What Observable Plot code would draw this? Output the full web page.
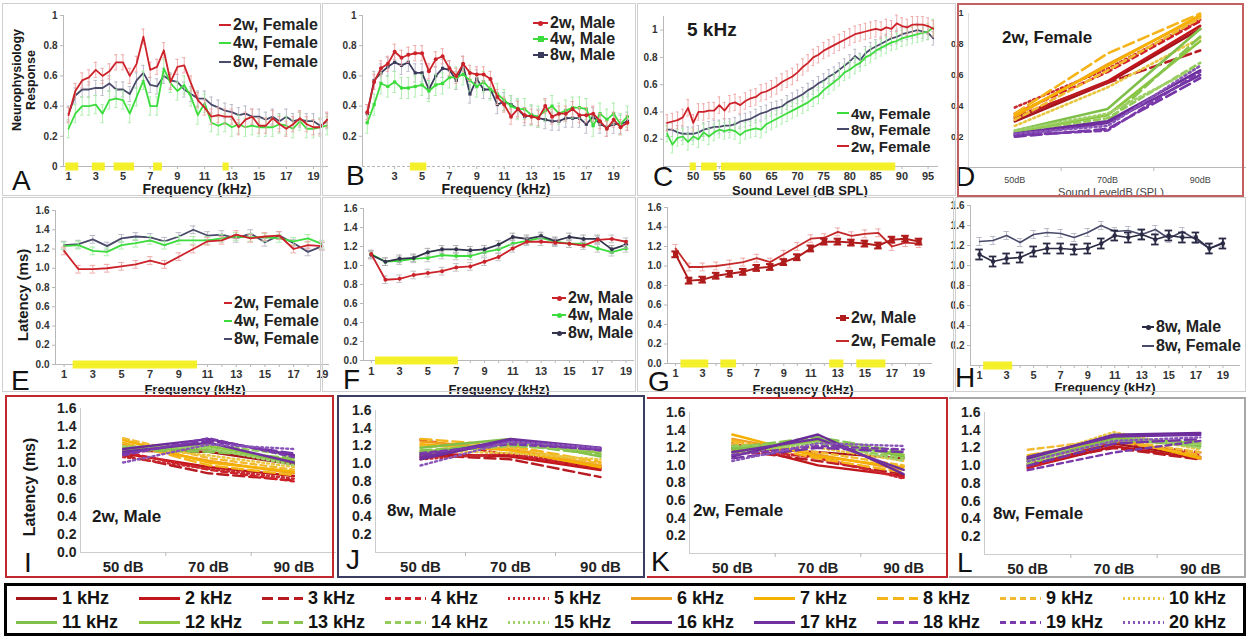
<!DOCTYPE html>
<html><head><meta charset="utf-8">
<script src="https://cdn.jsdelivr.net/npm/d3@7"></script>
<script src="https://cdn.jsdelivr.net/npm/@observablehq/plot@0.6"></script>
<style>
html,body{margin:0;padding:0;background:#fff;}
#root{position:relative;width:1250px;height:639px;overflow:hidden;background:#fff;font-family:"Liberation Sans",Arial,sans-serif;}
</style></head><body><div id="root"></div><script>
// ---------------- DATA ----------------
const freqHalf = [1,1.5,2,2.5,3,3.5,4,4.5,5,5.5,6,6.5,7,7.5,8,8.5,9,9.5,10,10.5,11,11.5,12,12.5,13,13.5,14,14.5,15,15.5,16,16.5,17,17.5,18,18.5,19,19.5,20];
const a2wF = [0.34,0.50,0.57,0.59,0.64,0.60,0.63,0.69,0.69,0.60,0.68,0.86,0.64,0.66,0.77,0.56,0.66,0.67,0.55,0.44,0.39,0.33,0.34,0.33,0.33,0.26,0.31,0.33,0.27,0.27,0.32,0.28,0.25,0.28,0.32,0.28,0.26,0.26,0.31];
const a4wF = [0.25,0.35,0.40,0.40,0.41,0.35,0.44,0.45,0.44,0.35,0.46,0.57,0.40,0.40,0.65,0.55,0.50,0.54,0.46,0.34,0.42,0.29,0.27,0.29,0.26,0.28,0.26,0.27,0.26,0.26,0.26,0.28,0.27,0.25,0.30,0.25,0.25,0.26,0.27];
const a8wF = [0.35,0.47,0.51,0.51,0.52,0.52,0.55,0.51,0.51,0.48,0.57,0.62,0.54,0.53,0.60,0.57,0.56,0.51,0.48,0.45,0.45,0.41,0.39,0.37,0.36,0.34,0.35,0.33,0.33,0.31,0.33,0.30,0.33,0.30,0.31,0.30,0.30,0.27,0.30];
const b2wM = [0.36,0.56,0.65,0.68,0.76,0.72,0.74,0.75,0.75,0.63,0.71,0.73,0.65,0.60,0.68,0.62,0.61,0.61,0.58,0.46,0.41,0.33,0.38,0.34,0.33,0.32,0.40,0.33,0.35,0.35,0.38,0.34,0.34,0.35,0.30,0.25,0.31,0.26,0.29];
const b4wM = [0.29,0.41,0.55,0.53,0.56,0.52,0.52,0.53,0.54,0.50,0.54,0.55,0.59,0.59,0.61,0.57,0.53,0.56,0.51,0.48,0.44,0.40,0.38,0.38,0.34,0.33,0.37,0.40,0.35,0.37,0.39,0.39,0.38,0.27,0.35,0.31,0.35,0.28,0.33];
const b8wM = [0.35,0.57,0.62,0.66,0.69,0.67,0.69,0.62,0.62,0.51,0.60,0.65,0.64,0.57,0.67,0.48,0.58,0.51,0.51,0.41,0.43,0.41,0.38,0.33,0.34,0.32,0.31,0.30,0.30,0.32,0.32,0.32,0.28,0.33,0.28,0.26,0.28,0.28,0.30];

const levelC = [45,46,47,48,49,50,51,52,53,54,55,56,57,58,59,60,61,62,63,64,65,66,67,68,69,70,71,72,73,74,75,76,77,78,79,80,81,82,83,84,85,86,87,88,89,90,91,92,93,94,95,96];
const c2wF = [0.32,0.33,0.34,0.36,0.43,0.32,0.40,0.40,0.41,0.41,0.45,0.41,0.46,0.47,0.45,0.48,0.50,0.51,0.54,0.55,0.57,0.59,0.62,0.64,0.66,0.69,0.73,0.76,0.80,0.82,0.85,0.87,0.89,0.91,0.93,0.95,0.97,0.98,0.99,1.00,1.01,1.00,1.02,1.01,1.05,1.03,1.02,1.04,1.04,1.04,1.03,1.01];
const c4wF = [0.24,0.16,0.21,0.22,0.18,0.22,0.20,0.25,0.22,0.25,0.27,0.26,0.27,0.26,0.23,0.26,0.27,0.28,0.27,0.31,0.33,0.35,0.37,0.39,0.41,0.43,0.45,0.47,0.50,0.52,0.56,0.59,0.62,0.65,0.69,0.71,0.74,0.76,0.80,0.82,0.85,0.87,0.89,0.91,0.92,0.94,0.95,0.96,0.97,0.98,0.99,1.02];
const c8wF = [0.27,0.27,0.25,0.24,0.24,0.24,0.25,0.27,0.28,0.29,0.29,0.30,0.30,0.31,0.33,0.34,0.35,0.37,0.39,0.40,0.42,0.43,0.44,0.47,0.49,0.51,0.53,0.56,0.58,0.61,0.63,0.66,0.68,0.71,0.74,0.77,0.81,0.78,0.83,0.86,0.88,0.90,0.92,0.94,0.95,0.97,0.98,0.99,1.00,0.99,0.98,0.94];

const freqInt = [1,2,3,4,5,6,7,8,9,10,11,12,13,14,15,16,17,18,19];
const e2wF = [1.18,0.99,0.99,1.00,1.02,1.04,1.08,1.04,1.12,1.20,1.28,1.29,1.35,1.31,1.33,1.34,1.20,1.24,1.23];
const e4wF = [1.23,1.24,1.18,1.17,1.24,1.26,1.29,1.24,1.29,1.29,1.29,1.31,1.33,1.32,1.32,1.31,1.28,1.31,1.25];
const e8wF = [1.24,1.25,1.30,1.23,1.31,1.33,1.32,1.28,1.33,1.40,1.34,1.35,1.31,1.36,1.27,1.34,1.26,1.17,1.23];
const f2wM = [1.12,0.85,0.86,0.90,0.92,0.94,0.98,0.99,1.04,1.09,1.18,1.25,1.25,1.24,1.23,1.21,1.27,1.28,1.25];
const f4wM = [1.12,1.04,1.05,1.07,1.08,1.11,1.10,1.10,1.14,1.17,1.23,1.26,1.29,1.25,1.23,1.23,1.18,1.14,1.18];
const f8wM = [1.11,1.04,1.07,1.08,1.14,1.17,1.17,1.16,1.17,1.22,1.30,1.28,1.31,1.26,1.30,1.28,1.28,1.17,1.22];

// significance (yellow) ranges
const sigA = [[0.8,1.75],[2.75,3.7],[4.35,5.85],[7.25,7.9],[12.35,12.8]];
const sigB = [[4.15,5.35]];
const sigC = [[49.4,50.6],[51.6,54.6],[55.4,88.8]];
const sigE = [[1.63,10.3]];
const sigF = [[1.3,7.15]];
const sigG = [[1.4,3.45],[4.35,5.5],[12.4,13.45],[14.4,16.55]];
const sigH = [[1.3,3.45]];

// standard errors (estimated bar half-lengths)
const semA = [0.05, 0.06, 0.05];
const semB = [0.05, 0.07, 0.06];
const semC = [0.06, 0.05, 0.06];
const semLat = [0.04, 0.04, 0.04];

// frequency-family panels (D, I-L)
const freqKHz = [1,2,3,4,5,6,7,8,9,10,11,12,13,14,15,16,17,18,19,20];
const levelsDb = [50, 70, 90];
const respD = [[0.30,0.55,0.90],[0.32,0.56,0.92],[0.33,0.55,0.76],[0.35,0.62,0.95],[0.39,0.64,0.96],
  [0.33,0.67,0.98],[0.34,0.66,0.99],[0.35,0.74,1.00],[0.31,0.63,0.97],[0.27,0.52,0.84],
  [0.24,0.38,0.90],[0.23,0.34,0.82],[0.22,0.30,0.85],[0.23,0.32,0.68],[0.24,0.35,0.66],
  [0.22,0.30,0.63],[0.21,0.29,0.60],[0.20,0.25,0.58],[0.21,0.24,0.62],[0.22,0.27,0.66]];
const latI = [[1.13,1.12,0.98],[1.10,0.95,0.85],[1.08,0.88,0.80],[1.12,0.92,0.79],[1.06,0.93,0.82],
  [1.20,1.02,0.88],[1.25,1.00,0.90],[1.22,0.97,0.86],[1.27,1.05,0.92],[1.18,1.08,0.95],
  [1.15,1.15,1.00],[1.17,1.18,1.02],[1.14,1.12,1.05],[1.12,1.20,1.08],[1.18,1.16,0.97],
  [1.15,1.26,1.08],[1.12,1.22,1.00],[1.10,1.24,1.10],[1.08,1.27,1.06],[1.00,1.20,1.15]];
const latJ = [[1.08,1.10,0.95],[1.12,1.08,0.93],[1.10,1.05,0.85],[1.27,1.10,0.95],[1.05,1.12,0.98],
  [1.25,1.17,0.98],[1.22,1.15,0.96],[1.28,1.20,1.02],[1.20,1.18,1.00],[1.15,1.12,1.05],
  [1.18,1.28,1.08],[1.13,1.25,1.12],[1.15,1.22,1.10],[1.12,1.20,1.15],[1.10,1.24,1.14],
  [1.05,1.27,1.17],[1.07,1.28,1.18],[1.10,1.25,1.15],[1.12,1.22,1.16],[0.98,1.25,1.18]];
const latK = [[1.20,1.15,1.08],[1.25,1.00,0.88],[1.18,1.05,0.90],[1.22,1.08,0.86],[1.15,1.10,0.85],
  [1.30,1.12,0.95],[1.35,1.10,0.98],[1.28,1.08,0.92],[1.25,1.15,1.00],[1.22,1.20,1.05],
  [1.18,1.30,1.10],[1.15,1.28,1.12],[1.20,1.32,1.15],[1.22,1.25,1.08],[1.12,1.26,1.05],
  [1.10,1.35,0.90],[1.15,1.30,0.95],[1.08,1.20,1.15],[1.12,1.22,1.18],[1.05,1.25,1.22]];
const latL = [[1.00,1.25,1.10],[0.98,1.22,1.08],[1.02,1.20,1.07],[0.97,1.28,1.12],[1.05,1.27,1.15],
  [1.08,1.30,1.10],[1.10,1.32,1.08],[1.12,1.28,1.12],[1.18,1.30,1.15],[1.07,1.38,1.18],
  [1.05,1.30,1.22],[1.10,1.32,1.25],[1.08,1.27,1.28],[1.02,1.29,1.25],[1.06,1.35,1.20],
  [1.08,1.35,1.37],[1.10,1.33,1.35],[1.00,1.25,1.30],[0.95,1.15,1.28],[1.05,1.28,1.32]];

// ---------------- STYLES ----------------
const freqColor = ["#a3141b","#c0161c","#b81c22","#d0202a","#c8282e",
  "#f0a020","#f5b000","#f4b41a","#f2ba30","#e9c640",
  "#7fbf4a","#8cc63f","#86c44e","#93cb5c","#9fd06a",
  "#6b2b99","#7030a0","#7635a6","#7b3aab","#8a55b8"];
const freqDash = [null,null,"11,5","6,4","2,3", null,null,"11,5","6,4","2,3",
  null,null,"11,5","6,4","2,3", null,null,"11,5","6,4","2,3"];
const RED = "#cc2229", GREEN = "#3ddc3d", SLATE = "#4a4a6a";
const RED_L = "#eea3a3", GREEN_L = "#a6eca6", SLATE_L = "#b4b4c4";
const YELLOW = "#f3ef1e";
const AX = "#b8b8b8", TK = "#333";
const FONT = '"Liberation Sans", Arial, Helvetica, sans-serif';

// ---------------- HELPERS ----------------
const root = document.getElementById("root");
function addPlot(left, top, opts) {
  const svg = Plot.plot({...opts, style: {background: "transparent", overflow: "visible", fontFamily: FONT}});
  Object.assign(svg.style, {position: "absolute", left: left + "px", top: top + "px", maxWidth: "none"});
  root.appendChild(svg);
}
function txt(s, x, cy, size, o = {}) {
  const d = document.createElement("div");
  d.innerHTML = s;
  const weight = o.weight || "bold", color = o.color || "#1a1a1a";
  d.style.cssText = `position:absolute;white-space:nowrap;line-height:${o.lh || 1};font-family:${o.family || FONT};font-size:${size}px;font-weight:${weight};color:${color};text-align:center;`;
  d.style.left = x + "px";
  if (o.rotate) { d.style.top = cy + "px"; d.style.transform = "translate(-50%,-50%) rotate(-90deg)"; }
  else {
    d.style.top = (cy - 0.49 * size) + "px";
    if (o.anchor === "middle") d.style.transform = "translateX(-50%)";
  }
  root.appendChild(d);
}
function box(x1, y1, x2, y2, color, w, extra = "") {
  const d = document.createElement("div");
  d.style.cssText = `position:absolute;box-sizing:border-box;pointer-events:none;left:${x1}px;top:${y1}px;width:${x2 - x1}px;height:${y2 - y1}px;border:${w}px solid ${color};${extra}`;
  root.appendChild(d);
}
function legend(items, x, rows, size, sw, lw = 2) {
  items.forEach((it, i) => {
    const cy = rows[i];
    const line = document.createElement("div");
    line.style.cssText = `position:absolute;left:${x - sw - 1}px;top:${cy - lw / 2}px;width:${sw}px;height:${lw}px;background:${it.color};`;
    root.appendChild(line);
    if (it.marker) {
      const m = document.createElement("div");
      const s = it.marker === "square" ? 6 : 5;
      m.style.cssText = `position:absolute;left:${x - sw / 2 - 1 - s / 2}px;top:${cy - s / 2}px;width:${s}px;height:${s}px;background:${it.color};border-radius:${it.marker === "square" ? 0 : 50}%;`;
      root.appendChild(m);
    }
    txt(it.label, x + 1, cy, size, {color: "#222"});
  });
}
function sigMarks(ranges) {
  return Plot.ruleY(ranges.map(([a, b]) => ({a, b, y: 0})), {x1: "a", x2: "b", y: "y", stroke: YELLOW, strokeWidth: 8, strokeOpacity: 0.95});
}
function series(xs, ys, color, o = {}) {
  const d = xs.map((x, i) => ({x, y: ys[i]}));
  const m = [];
  if (o.err) {
    m.push(Plot.ruleX(d, {x: "x", y1: r => r.y - o.err, y2: r => r.y + o.err, stroke: o.errColor, strokeWidth: o.errWidth || 0.9}));
    if (o.cap) {
      m.push(Plot.ruleY(d, {x1: r => r.x - o.cap, x2: r => r.x + o.cap, y: r => r.y + o.err, stroke: o.errColor, strokeWidth: o.errWidth || 0.9}));
      m.push(Plot.ruleY(d, {x1: r => r.x - o.cap, x2: r => r.x + o.cap, y: r => r.y - o.err, stroke: o.errColor, strokeWidth: o.errWidth || 0.9}));
    }
  }
  m.push(Plot.line(d, {x: "x", y: "y", stroke: color, strokeWidth: o.width || 1.8}));
  if (o.marker) m.push(Plot.dot(d, {x: "x", y: "y", fill: color, r: o.r || 2, symbol: o.marker}));
  return m;
}
function freqLines(table, width) {
  return freqKHz.map((f, i) => Plot.line(levelsDb.map((l, j) => ({l, v: table[i][j]})),
    {x: "l", y: "v", stroke: freqColor[i], strokeWidth: width, strokeDasharray: freqDash[i] || undefined}));
}
const fmtPlain = d => String(d);
const fmt1 = d => d.toFixed(1);
const odd19 = [1,3,5,7,9,11,13,15,17,19];
const latTicks = [0,0.2,0.4,0.6,0.8,1.0,1.2,1.4,1.6];
const latTicksNoZero = [0.2,0.4,0.6,0.8,1.0,1.2,1.4,1.6];
function yAx(ticks, fmt, size, o = {}) {
  return Plot.axisY(ticks, {tickFormat: fmt, tickSize: o.tickSize ?? 3, tickPadding: o.pad ?? 3, fontSize: size, fontWeight: o.weight || "bold", fill: o.fill || TK, stroke: AX, label: null});
}
function xAx(ticks, fmt, size, o = {}) {
  return Plot.axisX(ticks, {tickFormat: fmt, tickSize: o.tickSize ?? 3, tickPadding: o.pad ?? 3, fontSize: size, fontWeight: o.weight || "bold", fill: o.fill || TK, stroke: AX, label: null});
}

// ---------------- ROW 1 ----------------
// A
addPlot(0, 0, {width: 330, height: 197, marginLeft: 63, marginRight: 2, marginTop: 15, marginBottom: 31,
  x: {domain: [0.63, 20.1], label: null}, y: {domain: [0, 1], label: null},
  marks: [
    Plot.ruleY([0], {stroke: AX}), Plot.ruleX([0.63], {stroke: AX}),
    yAx([0,0.2,0.4,0.6,0.8,1], fmtPlain, 10),
    xAx(odd19, fmtPlain, 11),
    sigMarks(sigA),
    ...series(freqHalf, a8wF, SLATE, {err: semA[2], errColor: SLATE_L, cap: 0.12}),
    ...series(freqHalf, a4wF, GREEN, {err: semA[1], errColor: GREEN_L, cap: 0.12}),
    ...series(freqHalf, a2wF, RED, {err: semA[0], errColor: RED_L, cap: 0.12})
  ]});
// B
addPlot(322, 0, {width: 315, height: 197, marginLeft: 40, marginRight: 6, marginTop: 15, marginBottom: 31,
  x: {domain: [0.65, 20.3], label: null}, y: {domain: [0, 1], label: null},
  marks: [
    Plot.ruleY([0], {stroke: AX, strokeDasharray: "3,2"}), Plot.ruleX([0.65], {stroke: AX}),
    yAx([0.2,0.4,0.6,0.8,1], fmtPlain, 10),
    xAx([3,5,7,9,11,13,15,17,19], fmtPlain, 11),
    sigMarks(sigB),
    ...series(freqHalf, b8wM, "#3a3a5a", {err: semB[2], errColor: SLATE_L, cap: 0.12, marker: "square", r: 1.8}),
    ...series(freqHalf, b4wM, GREEN, {err: semB[1], errColor: GREEN_L, cap: 0.12, marker: "square", r: 1.8}),
    ...series(freqHalf, b2wM, RED, {err: semB[0], errColor: RED_L, cap: 0.12, marker: "circle", r: 2})
  ]});
// C
addPlot(632, 0, {width: 323, height: 197, marginLeft: 31, marginRight: 17, marginTop: 16, marginBottom: 31,
  x: {domain: [44.3, 97], label: null}, y: {domain: [0, 1.1], label: null},
  marks: [
    Plot.ruleY([0], {stroke: AX}), Plot.ruleX([44.3], {stroke: AX}),
    yAx([0.2,0.4,0.6,0.8,1], fmtPlain, 10),
    xAx([50,55,60,65,70,75,80,85,90,95], fmtPlain, 11),
    sigMarks(sigC),
    ...series(levelC, c8wF, SLATE, {err: semC[1], errColor: SLATE_L, cap: 0.25}),
    ...series(levelC, c4wF, GREEN, {err: semC[2], errColor: GREEN_L, cap: 0.25}),
    ...series(levelC, c2wF, RED, {err: semC[0], errColor: RED_L, cap: 0.25})
  ]});
// D
addPlot(940, 0, {width: 306, height: 197, marginLeft: 28, marginRight: 0, marginTop: 13, marginBottom: 30,
  x: {domain: [40, 100], label: null}, y: {domain: [0, 1], label: null},
  marks: [
    Plot.ruleY([0], {stroke: AX}), Plot.ruleX([40], {stroke: "#ddd"}),
    yAx([0.2,0.4,0.6,0.8,1], fmtPlain, 9, {tickSize: 0, pad: 5}),
    xAx(levelsDb, d => d + "dB", 9, {tickSize: 0, pad: 9, weight: "normal", fill: "#444"}),
    xAx([60, 80], () => "", 9, {tickSize: 4}),
    ...freqLines(respD, 2.6)
  ]});

// ---------------- ROW 2 ----------------
// E
addPlot(0, 197, {width: 330, height: 195, marginLeft: 55, marginRight: 1, marginTop: 13, marginBottom: 28,
  x: {domain: [0.4, 19.5], label: null}, y: {domain: [0, 1.6], label: null},
  marks: [
    Plot.ruleY([0], {stroke: AX}), Plot.ruleX([0.4], {stroke: AX}),
    yAx(latTicks, fmt1, 10),
    xAx(freqInt, () => "", 10, {tickSize: 3}),
    xAx(odd19, fmtPlain, 11, {tickSize: 0, pad: 6}),
    sigMarks(sigE),
    ...series(freqInt, e8wF, SLATE, {err: semLat[2], errColor: SLATE_L, cap: 0.2}),
    ...series(freqInt, e4wF, GREEN, {err: semLat[1], errColor: GREEN_L, cap: 0.2}),
    ...series(freqInt, e2wF, RED, {err: semLat[0], errColor: RED_L, cap: 0.2})
  ]});
// F
addPlot(322, 197, {width: 315, height: 195, marginLeft: 41, marginRight: 3, marginTop: 11, marginBottom: 32,
  x: {domain: [0.45, 19.6], label: null}, y: {domain: [0, 1.6], label: null},
  marks: [
    Plot.ruleY([0], {stroke: AX}), Plot.ruleX([0.45], {stroke: AX}),
    yAx(latTicks, fmt1, 10),
    xAx(freqInt, () => "", 10, {tickSize: 3}),
    xAx(odd19, fmtPlain, 11, {tickSize: 0, pad: 7}),
    sigMarks(sigF),
    ...series(freqInt, f4wM, GREEN, {err: semLat[1], errColor: "#bbb", cap: 0.2, marker: "circle", r: 2}),
    ...series(freqInt, f8wM, "#33334d", {err: semLat[2], errColor: "#aaa", cap: 0.2, marker: "circle", r: 2}),
    ...series(freqInt, f2wM, RED, {err: semLat[0], errColor: "#bbb", cap: 0.2, marker: "circle", r: 2})
  ]});
// G
addPlot(637, 197, {width: 318, height: 195, marginLeft: 30, marginRight: 23, marginTop: 10, marginBottom: 29,
  x: {domain: [0.4, 20], label: null}, y: {domain: [0, 1.6], label: null},
  marks: [
    Plot.ruleY([0], {stroke: AX}), Plot.ruleX([0.4], {stroke: AX}),
    yAx(latTicks, fmt1, 10),
    xAx(freqInt, () => "", 10, {tickSize: 3}),
    xAx(odd19, fmtPlain, 11, {tickSize: 0, pad: 6}),
    sigMarks(sigG),
    ...series(freqInt, e2wF, "#c42a2a", {err: semLat[0], errColor: RED_L, cap: 0.2, width: 1.8}),
    ...series(freqInt, f2wM, "#b01c1c", {err: 0.03, errColor: "#b01c1c", errWidth: 2, cap: 0.28, marker: "square", r: 3, width: 2})
  ]});
// H
addPlot(940, 197, {width: 305, height: 195, marginLeft: 30, marginRight: 5, marginTop: 8, marginBottom: 27,
  x: {domain: [0.33, 20.3], label: null}, y: {domain: [0, 1.6], label: null},
  marks: [
    Plot.ruleY([0], {stroke: AX}), Plot.ruleX([0.33], {stroke: AX}),
    yAx(latTicksNoZero, fmt1, 10),
    xAx(freqInt, () => "", 10, {tickSize: 3}),
    xAx(odd19, fmtPlain, 11, {tickSize: 0, pad: 6}),
    sigMarks(sigH),
    ...series(freqInt, e8wF, SLATE, {err: semLat[2], errColor: SLATE_L, cap: 0.2, width: 1.6}),
    ...series(freqInt, f8wM, "#2a2a45", {err: 0.05, errColor: "#2a2a45", errWidth: 1.8, cap: 0.28, marker: "circle", r: 2.2, width: 1.6})
  ]});

// ---------------- ROW 3 ----------------
function latPanel(left, width, ml, mr, mt, mb, table, ticks) {
  addPlot(left, 395, {width, height: 185, marginLeft: ml, marginRight: mr, marginTop: mt, marginBottom: mb,
    x: {domain: [40, 100], label: null}, y: {domain: [0, 1.6], label: null},
    marks: [
      Plot.ruleY([0], {stroke: "#ccc"}), Plot.ruleX([40], {stroke: "#ccc"}),
      yAx(ticks, fmt1, 14, {tickSize: 0, pad: 4, fill: "#222"}),
      xAx([60, 80], () => "", 10, {tickSize: 4}),
      xAx(levelsDb, d => d + " dB", 15, {tickSize: 0, pad: 9, fill: "#222"}),
      ...freqLines(table, 2.4)
    ]});
}
latPanel(5, 333, 75, 2, 13, 28, latI, latTicks);
latPanel(338, 307, 37, 0, 15, 28, latJ, latTicksNoZero);
latPanel(648, 300, 41, 2, 17, 27, latK, latTicksNoZero);
latPanel(950, 295, 34, 2, 17, 26, latL, latTicksNoZero);

// ---------------- BOTTOM LEGEND ----------------
const legendRows = freqKHz.map((f, i) => ({f, col: i % 10, row: Math.floor(i / 10), label: f + " kHz"}));
addPlot(0, 585, {width: 1250, height: 50, marginLeft: 8, marginRight: 5, marginTop: 13, marginBottom: 13,
  x: {type: "band", domain: d3.range(10), padding: 0, axis: null},
  y: {type: "point", domain: [0, 1], padding: 0, axis: null},
  marks: [
    ...legendRows.map((r, i) => Plot.tickY([r], {x: "col", y: "row", stroke: freqColor[i], strokeWidth: 3.2,
      strokeDasharray: freqDash[i] || undefined, insetLeft: 4, insetRight: 78})),
    Plot.text(legendRows, {x: "col", y: "row", text: "label", textAnchor: "start", dx: -12, fontSize: 18, fontWeight: "bold", fill: "#111"})
  ]});

// ---------------- TEXT ----------------
// axis titles
txt("Neurophysiology<br>Response", 25, 80, 12.5, {rotate: true, lh: 1.1});
txt("Frequency (kHz)", 197, 189, 14, {anchor: "middle"});
txt("Frequency (kHz)", 496, 189, 14, {anchor: "middle"});
txt("Sound Level (dB SPL)", 800, 190, 13, {anchor: "middle"});
txt("Sound LeveldB (SPL)", 1111, 192, 11, {anchor: "middle", weight: "normal", color: "#444"});
txt("Latency (ms)", 22, 295, 15, {rotate: true});
txt("Frequency (kHz)", 195, 389, 13, {anchor: "middle"});
txt("Frequency (kHz)", 499, 389, 13, {anchor: "middle"});
txt("Frequency (kHz)", 803, 389, 13, {anchor: "middle"});
txt("Frequency (kHz)", 1105, 387, 13, {anchor: "middle"});
txt("Latency (ms)", 30, 487, 16, {rotate: true});
// panel texts
txt("5 kHz", 687, 29, 19);
txt("2w, Female", 1002, 37, 17);
txt("2w, Male", 92, 516, 17);
txt("8w, Male", 387, 510, 17);
txt("2w, Female", 693, 510, 17);
txt("8w, Female", 993, 513, 17);
// in-panel legends
legend([{label: "2w, Female", color: RED}, {label: "4w, Female", color: GREEN}, {label: "8w, Female", color: SLATE}], 232, [25, 43, 62], 16, 12);
legend([{label: "2w, Male", color: RED, marker: "circle"}, {label: "4w, Male", color: GREEN, marker: "square"}, {label: "8w, Male", color: "#3a3a5a", marker: "square"}], 549, [23, 39, 55], 16, 15);
legend([{label: "4w, Female", color: GREEN}, {label: "8w, Female", color: SLATE}, {label: "2w, Female", color: RED}], 850, [113, 129, 146], 15, 12);
legend([{label: "2w, Female", color: RED}, {label: "4w, Female", color: GREEN}, {label: "8w, Female", color: SLATE}], 233, [303, 321, 339], 16, 8);
legend([{label: "2w, Male", color: RED, marker: "circle"}, {label: "4w, Male", color: GREEN, marker: "circle"}, {label: "8w, Male", color: "#33334d", marker: "circle"}], 567, [298, 315, 333], 16, 14);
legend([{label: "2w, Male", color: "#b01c1c", marker: "square"}, {label: "2w, Female", color: "#c42a2a"}], 850, [318, 341], 16, 13);
legend([{label: "8w, Male", color: "#2a2a45", marker: "circle"}, {label: "8w, Female", color: SLATE}], 1155, [327, 346], 16, 12);
// panel letters
[["A", 12, 181], ["B", 346, 176], ["C", 653, 177], ["D", 955, 177],
 ["E", 11, 381], ["F", 343, 380], ["G", 648, 382], ["H", 955, 378],
 ["I", 24, 563], ["J", 346, 560], ["K", 651, 562], ["L", 957, 563]]
 .forEach(([s, x, y]) => txt(s, x, y, 28, {weight: "normal", color: "#111"}));

// ---------------- FRAMES ----------------
box(2, 3, 321, 196, "#cfcfcf", 1);
box(322, 3, 636, 196, "#cfcfcf", 1);
box(637, 3, 956, 196, "#cfcfcf", 1);
box(957, 3, 1244, 197, "#c46060", 2);
box(2, 197, 321, 392, "#cfcfcf", 1);
box(322, 197, 636, 392, "#cfcfcf", 1);
box(637, 197, 954, 392, "#cfcfcf", 1);
box(955, 197, 1246, 392, "#cfcfcf", 1);
box(5, 395, 334, 578, "#c0282d", 2);
box(337, 395, 645, 578, "#3c3c60", 2);
box(647, 397, 948, 578, "#c0282d", 2, "border-left:none;");
box(949, 397, 1246, 578, "#a8a8a8", 2, "border-left:none;");
box(4, 583, 1246, 636, "#000", 3);
</script></body></html>
